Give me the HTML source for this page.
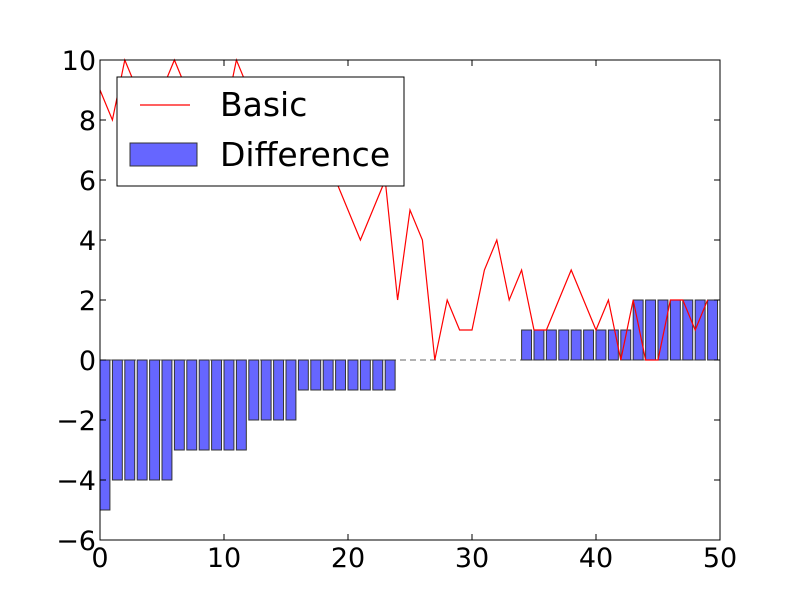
<!DOCTYPE html>
<html><head><meta charset="utf-8"><style>body{margin:0;background:#fff}svg{display:block}text{font-family:"DejaVu Sans","Liberation Sans",sans-serif}</style></head>
<body>
<svg id="chart" width="800" height="600" xmlns="http://www.w3.org/2000/svg">
<rect width="800" height="600" fill="#fff"/>
<g id="marks"></g>
<rect x="100" y="60" width="620" height="480" fill="none" stroke="#000" stroke-width="1"/>
<g id="axes"></g>
<g>
<rect x="117" y="77" width="287" height="109" fill="#fff" stroke="#000"/>
<line x1="140" y1="105" x2="190" y2="105" stroke="red" stroke-width="1.2"/>
<text x="220" y="116" font-size="33">Basic</text>
<rect x="130" y="143" width="67" height="23" fill="#6666ff" stroke="#333"/>
<text x="220" y="166" font-size="33">Difference</text>
</g>
</svg>
<script>
const xTicks=[0,10,20,30,40,50];
const yTicks=[10,8,6,4,2,0,-2,-4,-6];
const diffValues=[-5,-4,-4,-4,-4,-4,-3,-3,-3,-3,-3,-3,-2,-2,-2,-2,-1,-1,-1,-1,-1,-1,-1,-1,0,0,0,0,0,0,0,0,0,0,1,1,1,1,1,1,1,1,1,2,2,2,2,2,2,2];
const basicValues=[9,8,10,9,8,9,10,9,8,9,8,10,9,8,8,7,8,7,7,6,5,4,5,6,2,5,4,0,2,1,1,3,4,2,3,1,1,2,3,2,1,2,0,2,0,0,2,2,1,2];
const NS="http://www.w3.org/2000/svg";
const sx=v=>100+v*12.4, sy=v=>60+(10-v)*30;
const marks=document.getElementById('marks'), axes=document.getElementById('axes');
function mk(t,a,p){const e=document.createElementNS(NS,t);for(const k in a)e.setAttribute(k,a[k]);p.appendChild(e);return e;}
const base=mk('line',{x1:sx(0),x2:sx(50),y1:sy(0),y2:sy(0),stroke:'#666','stroke-dasharray':'6,4'},marks);


diffValues.forEach((v,i)=>{if(v===0)return;
const r=mk('rect',{x:sx(i),width:sx(0.8)-sx(0),y:Math.min(sy(v),sy(0)),height:Math.abs(sy(v)-sy(0)),fill:'#6666ff',stroke:'#333','stroke-width':1},marks);

});
const pl=mk('polyline',{points:basicValues.map((v,i)=>sx(i)+','+sy(v)).join(' '),fill:'none',stroke:'red','stroke-width':1.2},marks);


xTicks.forEach(t=>{mk('line',{x1:sx(t),x2:sx(t),y1:540,y2:534,stroke:'#000'},axes);mk('line',{x1:sx(t),x2:sx(t),y1:60,y2:66,stroke:'#000'},axes);
const tx=mk('text',{x:sx(t),y:567,'font-size':27,'text-anchor':'middle'},axes);tx.textContent=t;

});
yTicks.forEach(t=>{mk('line',{x1:100,x2:106,y1:sy(t),y2:sy(t),stroke:'#000'},axes);mk('line',{x1:720,x2:714,y1:sy(t),y2:sy(t),stroke:'#000'},axes);
const tx=mk('text',{x:96,y:sy(t)+10,'font-size':27,'text-anchor':'end'},axes);tx.textContent=t<0?'\u2212'+(-t):t;

});
</script>
</body></html>
